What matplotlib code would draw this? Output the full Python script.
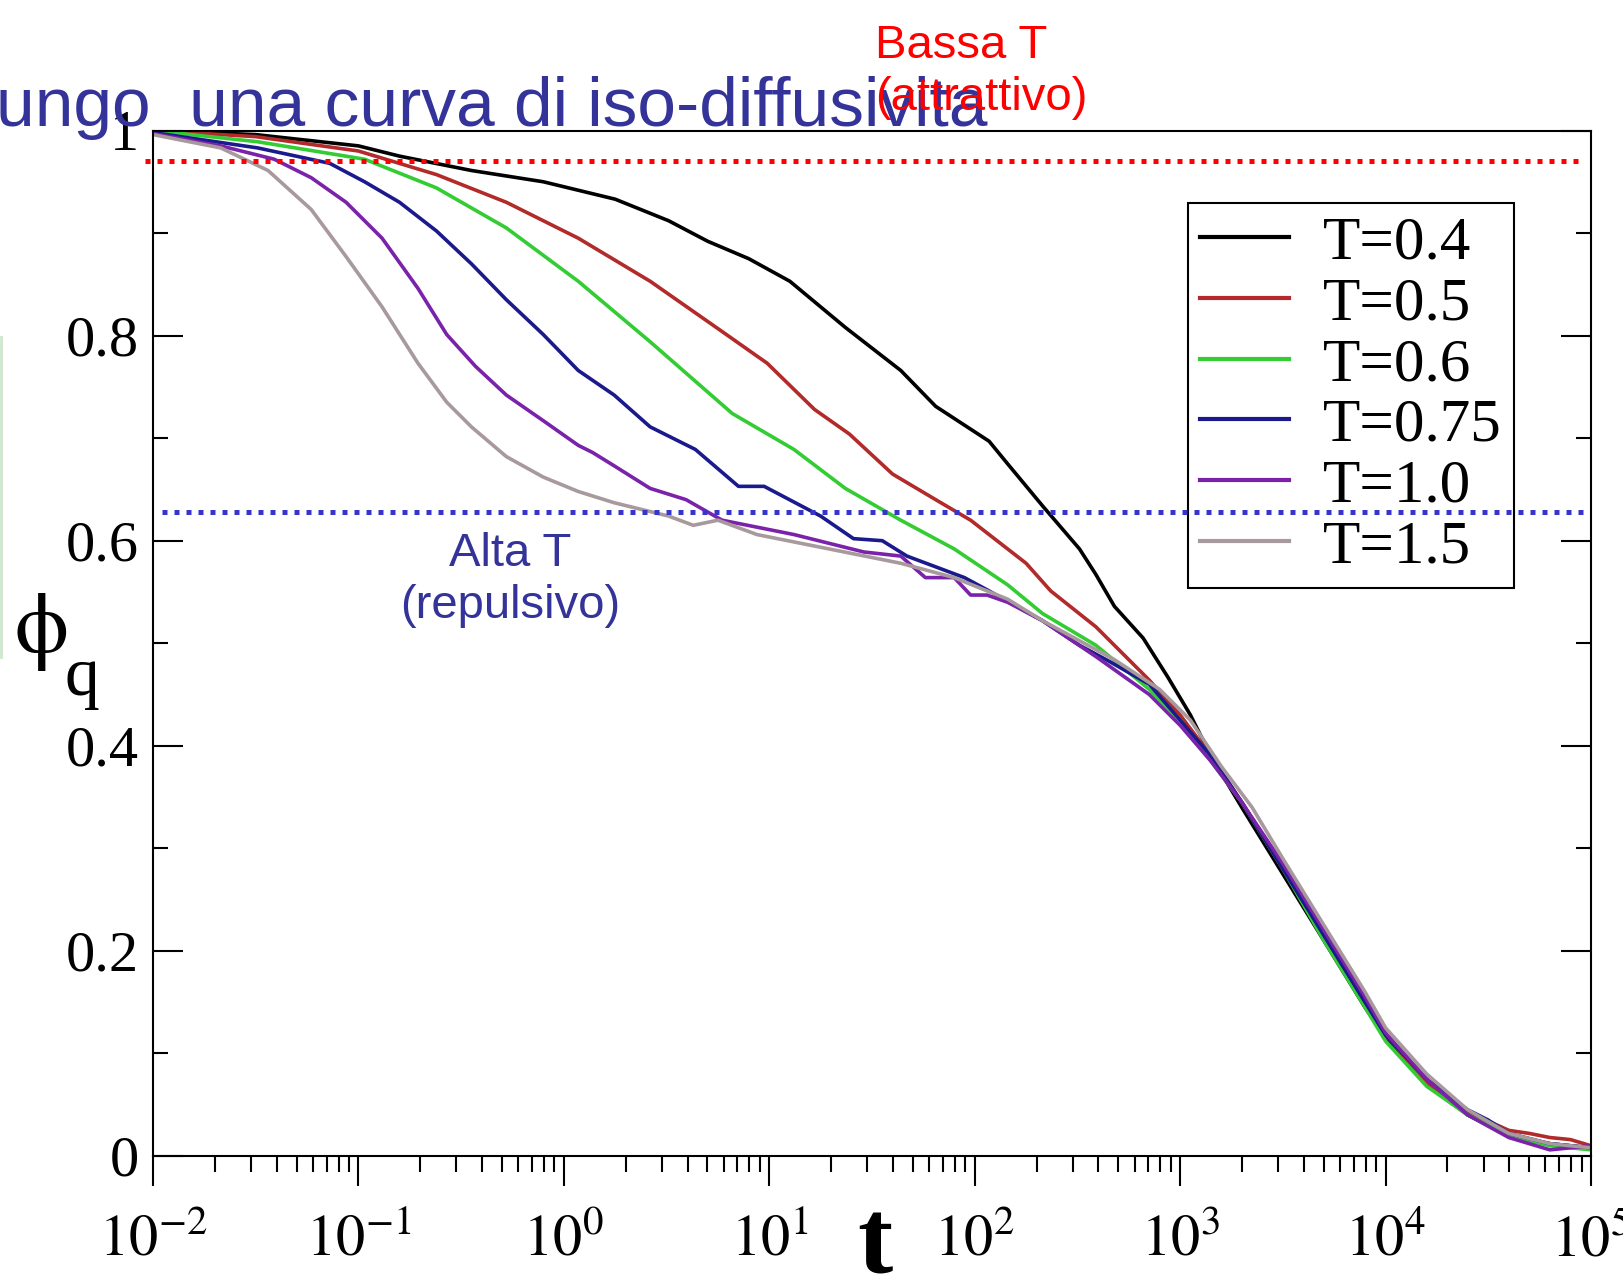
import numpy as np
import matplotlib
matplotlib.use("Agg")
import matplotlib.pyplot as plt
import matplotlib.transforms as mtransforms
from matplotlib.lines import Line2D
from matplotlib.ticker import LogLocator, MultipleLocator, NullFormatter

plt.rcParams['font.family'] = ['Liberation Serif', 'DejaVu Serif']
plt.rcParams['mathtext.fontset'] = 'stix'

# series labels and colours
labels = ['T=0.4', 'T=0.5', 'T=0.6', 'T=0.75', 'T=1.0', 'T=1.5']
colors = ['#000000', '#b22a2a', '#33cc33', '#1a1a8c', '#7a22aa', '#a8999c']

# log10(t) and phi_q
lt_04 = [-2.0, -1.5, -1.0, -0.8, -0.45, -0.1, 0.25, 0.51, 0.70, 0.90, 1.10, 1.37, 1.64, 1.81, 2.07, 2.16,
         2.33, 2.51, 2.59, 2.68, 2.82, 2.94, 3.05, 3.15, 3.3, 3.5, 3.7, 3.9, 4.0, 4.2, 4.4, 4.6, 4.8, 5.0]
phi_04 = [1.0, 0.996, 0.985, 0.975, 0.961, 0.950, 0.933, 0.912, 0.892, 0.875, 0.853, 0.808, 0.766, 0.731, 0.697, 0.675,
          0.634, 0.592, 0.567, 0.536, 0.505, 0.467, 0.43, 0.39, 0.34, 0.275, 0.21, 0.145, 0.115, 0.07, 0.04, 0.02, 0.012, 0.008]

lt_05 = [-2.0, -1.5, -1.0, -0.62, -0.28, 0.07, 0.42, 0.77, 0.99, 1.22, 1.39, 1.60, 1.81, 1.98, 2.25, 2.37,
         2.59, 2.85, 3.0, 3.15, 3.3, 3.5, 3.7, 3.9, 4.0, 4.2, 4.4, 4.6, 4.7, 4.8, 4.9, 5.0]
phi_05 = [1.0, 0.994, 0.980, 0.957, 0.930, 0.895, 0.853, 0.804, 0.773, 0.728, 0.704, 0.665, 0.640, 0.620, 0.578, 0.551,
          0.516, 0.464, 0.43, 0.39, 0.345, 0.28, 0.215, 0.15, 0.118, 0.072, 0.043, 0.025, 0.022, 0.018, 0.016, 0.010]

lt_06 = [-2.0, -1.49, -0.97, -0.62, -0.28, 0.07, 0.42, 0.82, 1.12, 1.37, 1.64, 1.90, 2.16, 2.33, 2.59, 2.85,
         3.0, 3.15, 3.3, 3.5, 3.7, 3.9, 4.0, 4.2, 4.4, 4.6, 4.8, 5.0]
phi_06 = [1.0, 0.989, 0.972, 0.944, 0.905, 0.853, 0.794, 0.724, 0.689, 0.651, 0.620, 0.592, 0.557, 0.529, 0.498, 0.455,
          0.425, 0.385, 0.345, 0.28, 0.21, 0.145, 0.112, 0.068, 0.04, 0.02, 0.01, 0.006]

lt_075 = [-2.0, -1.49, -1.14, -0.97, -0.80, -0.62, -0.45, -0.28, -0.10, 0.07, 0.245, 0.42, 0.64, 0.85, 0.975, 1.25,
          1.41, 1.55, 1.67, 1.95, 2.07, 2.33, 2.51, 2.64, 2.85, 3.0, 3.15, 3.3, 3.5, 3.7, 3.9, 4.0, 4.2, 4.4, 4.5,
          4.6, 4.8, 5.0]
phi_075 = [0.998, 0.983, 0.968, 0.950, 0.930, 0.902, 0.870, 0.835, 0.801, 0.766, 0.742, 0.711, 0.689, 0.653, 0.653, 0.624,
           0.602, 0.600, 0.585, 0.564, 0.551, 0.522, 0.498, 0.484, 0.46, 0.425, 0.39, 0.345, 0.28, 0.215, 0.15, 0.118,
           0.075, 0.045, 0.035, 0.022, 0.012, 0.008]

lt_10 = [-2.0, -1.67, -1.41, -1.23, -1.06, -0.885, -0.71, -0.57, -0.43, -0.28, -0.10, 0.07, 0.14, 0.245, 0.42, 0.595,
         0.77, 1.12, 1.46, 1.64, 1.76, 1.90, 1.98, 2.06, 2.16, 2.33, 2.59, 2.85, 3.0, 3.15, 3.3, 3.5, 3.7, 3.9, 4.0,
         4.2, 4.4, 4.6, 4.8, 5.0]
phi_10 = [0.997, 0.985, 0.972, 0.954, 0.930, 0.895, 0.846, 0.801, 0.770, 0.742, 0.717, 0.693, 0.686, 0.673, 0.651, 0.640,
          0.620, 0.606, 0.589, 0.585, 0.564, 0.564, 0.547, 0.547, 0.540, 0.522, 0.487, 0.45, 0.42, 0.385, 0.345, 0.285,
          0.22, 0.155, 0.12, 0.075, 0.04, 0.018, 0.006, 0.01]

lt_15 = [-2.0, -1.67, -1.44, -1.23, -1.06, -0.885, -0.71, -0.57, -0.45, -0.28, -0.10, 0.07, 0.245, 0.51, 0.63, 0.75,
         0.94, 1.29, 1.64, 1.90, 2.16, 2.33, 2.68, 2.9, 3.05, 3.2, 3.35, 3.5, 3.7, 3.9, 4.0, 4.2, 4.4, 4.6, 4.8, 5.0]
phi_15 = [0.996, 0.983, 0.961, 0.923, 0.877, 0.828, 0.773, 0.735, 0.711, 0.682, 0.662, 0.648, 0.637, 0.624, 0.615, 0.62,
          0.606, 0.592, 0.578, 0.564, 0.543, 0.522, 0.484, 0.455, 0.425, 0.38, 0.34, 0.29, 0.225, 0.16, 0.125, 0.08,
          0.045, 0.022, 0.012, 0.008]

series_lt = [lt_04, lt_05, lt_06, lt_075, lt_10, lt_15]
series_phi = [phi_04, phi_05, phi_06, phi_075, phi_10, phi_15]

# iso-diffusivity levels marked on the slide
phi_low_T = 0.970
phi_high_T = 0.628

xtick_vals = [1e-2, 1e-1, 1e0, 1e1, 1e2, 1e3, 1e4, 1e5]
xtick_labels = [r'$10^{-2}$', r'$10^{-1}$', r'$10^{0}$', r'$10^{1}$', r'$10^{2}$', r'$10^{3}$', r'$10^{4}$', r'$10^{5}$']
ytick_vals = [0, 0.2, 0.4, 0.6, 0.8, 1.0]
ytick_labels = ['0', '0.2', '0.4', '0.6', '0.8', '1']

W, H = 1624, 1282
fig = plt.figure(figsize=(W / 100, H / 100), dpi=100)
ax = fig.add_axes([153 / W, 1 - 1156 / H, (1591 - 153) / W, (1156 - 130.5) / H])

for lt, phi, lab, col in zip(series_lt, series_phi, labels, colors):
    ax.plot(10 ** np.array(lt), phi, color=col, lw=2.6, label=lab)

ax.set_xscale('log')
ax.set_xlim(1e-2, 1e5)
ax.set_ylim(0, 1)
ax.set_xticks(xtick_vals, labels=xtick_labels)
ax.xaxis.set_minor_locator(LogLocator(base=10, subs=np.arange(2, 10), numticks=20))
ax.xaxis.set_minor_formatter(NullFormatter())
ax.set_yticks(ytick_vals, labels=ytick_labels)
ax.yaxis.set_minor_locator(MultipleLocator(0.1))

ax.tick_params(axis='x', which='both', direction='out', top=False, bottom=True, width=1.5)
ax.tick_params(axis='x', which='major', length=21.5, pad=21, labelsize=42)
ax.tick_params(axis='x', which='minor', length=11.5)
ax.tick_params(axis='y', which='both', direction='in', left=True, right=True, width=1.5)
ax.tick_params(axis='y', which='major', length=21.5, pad=10, labelsize=42)
ax.tick_params(axis='y', which='minor', length=11)
for sp in ax.spines.values():
    sp.set_linewidth(1.5)

leg = ax.legend(loc='upper left', bbox_to_anchor=(0.7197, 0.929), fontsize=44, handlelength=1.45,
                handletextpad=0.56, labelspacing=0.083, borderpad=0.2, borderaxespad=0,
                fancybox=False, edgecolor='black', framealpha=1)
leg.get_frame().set_linewidth(1.5)
for h in leg.get_lines():
    h.set_linewidth(3)

# dotted guide lines
trans = mtransforms.blended_transform_factory(ax.transAxes, ax.transData)
ax.plot([-0.0056, 0.991], [phi_low_T, phi_low_T], transform=trans, color='#ff0000', lw=3.6,
        ls=(0, (1, 1.4)), dash_capstyle='butt', clip_on=False, zorder=10)
ax.plot([0.006, 0.9944], [phi_high_T, phi_high_T], transform=trans, color='#3535cc', lw=3.6,
        ls=(0, (1, 1.4)), dash_capstyle='butt', clip_on=False, zorder=10)

# axis labels
fig.text(875 / W, 1 - 1272 / H, 't', fontsize=76, weight='bold', ha='center', va='baseline')
fig.text(14 / W, 1 - 652 / H, r'$\mathrm{\phi}$', fontsize=62, ha='left', va='baseline')
fig.text(65 / W, 1 - 695 / H, 'q', fontsize=50, ha='left', va='baseline')

# slide overlay text
sans = ['Liberation Sans', 'DejaVu Sans']
fig.text(-4 / W, 1 - 126 / H, 'ungo  una curva di iso-diffusivita', fontsize=50, color='#333399',
         family=sans, ha='left', va='baseline', zorder=5)
fig.text(875 / W, 1 - 58 / H, 'Bassa T', fontsize=34, color='#ff0000', family=sans,
         ha='left', va='baseline', zorder=6)
fig.text(875 / W, 1 - 110 / H, '(attrattivo)', fontsize=34, color='#ff0000', family=sans,
         ha='left', va='baseline', zorder=6)
fig.text(510 / W, 1 - 566 / H, 'Alta T', fontsize=34, color='#333399', family=sans,
         ha='center', va='baseline', zorder=6)
fig.text(510 / W, 1 - 618 / H, '(repulsivo)', fontsize=34, color='#333399', family=sans,
         ha='center', va='baseline', zorder=6)

# faint slide edge mark on the left
fig.add_artist(Line2D([1 / W, 1 / W], [1 - 337 / H, 1 - 657 / H], color='#cde8cd', lw=2))

fig.savefig('out.png', dpi=100)
